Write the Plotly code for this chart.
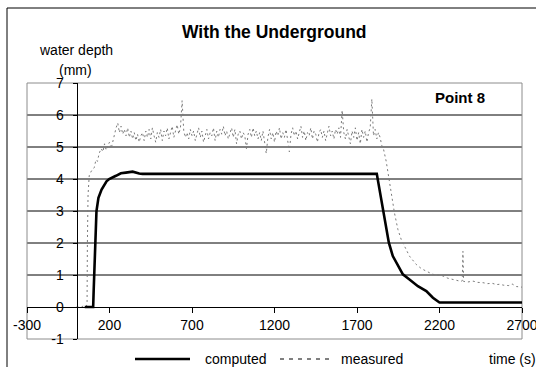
import plotly.graph_objects as go

# ---------------- data ----------------
computed_time = [50, 101, 104, 107, 111, 116, 121, 133, 152, 182, 198, 239, 269, 299, 340, 380, 400,
                 1000, 1820, 1826, 1847, 1857, 1873, 1893, 1917, 1948, 1978, 2018, 2069, 2120,
                 2140, 2160, 2200, 2700]
computed_depth = [0.0, 0.0, 0.5, 0.97, 2.0, 2.5, 3.0, 3.41, 3.67, 3.93, 4.0, 4.1, 4.18, 4.2, 4.23, 4.17, 4.16,
                  4.16, 4.16, 3.98, 3.36, 3.01, 2.63, 2.01, 1.59, 1.28, 1.02, 0.86, 0.65, 0.50,
                  0.40, 0.29, 0.14, 0.14]

measured_time = [
    0, 10, 20, 30, 40, 50, 60, 64, 66, 70, 77, 90, 107, 118, 127, 137, 150, 160, 170, 180,
    190, 200, 210, 220, 230, 240,
    250, 260, 270, 280, 290, 300, 310, 320, 330, 340, 350, 360, 370, 380, 390, 400,
    410, 420, 430, 440, 450, 460, 470, 480, 490, 500, 510, 520, 530, 540, 550, 560,
    570, 580, 590, 600, 610, 620, 630, 640, 650, 660, 670, 680, 690, 700, 710, 720,
    730, 740, 750, 760, 770, 780, 790, 800, 810, 820, 830, 840, 850, 860, 870, 880,
    890, 900, 910, 920, 930, 940, 950, 960, 970, 980, 990, 1000, 1010, 1020, 1030, 1040,
    1050, 1060, 1070, 1080, 1090, 1100, 1110, 1120, 1130, 1140, 1150, 1160, 1170, 1180,
    1190, 1200, 1210, 1220, 1230, 1240, 1250, 1260, 1270, 1280, 1290, 1300, 1310, 1320,
    1330, 1340, 1350, 1360, 1370, 1380, 1390, 1400, 1410, 1420, 1430, 1440, 1450, 1460,
    1470, 1480, 1490, 1500, 1510, 1520, 1530, 1540, 1550, 1560, 1570, 1580, 1590, 1600,
    1610, 1620, 1630, 1640, 1650, 1660, 1670, 1680, 1690, 1700, 1710, 1720, 1730, 1740,
    1750, 1760, 1770, 1780, 1790, 1800, 1810, 1820, 1830, 1840, 1850, 1860, 1877, 1891,
    1905, 1927, 1948, 1968, 1988, 2018, 2059, 2090, 2120, 2160, 2190, 2221, 2250, 2282,
    2310, 2330, 2338, 2342, 2346, 2370, 2403, 2430, 2464, 2490, 2520, 2545, 2564, 2590,
    2620, 2640, 2666, 2690, 2700]
measured_depth = [
    0.0, 0.0, 0.02, 0.0, 0.03, 0.0, 0.02, 0.1, 2.0, 3.5, 4.1, 4.25, 4.35, 4.6, 4.55, 4.8, 4.95, 4.85, 5.1, 4.9,
    5.05, 5.15, 4.95, 5.2, 5.45, 5.6,
    5.75, 5.45, 5.65, 5.40, 5.55, 5.35, 5.60, 5.30, 5.50, 5.25, 5.45, 5.20, 5.40, 5.15, 5.35, 5.45,
    5.20, 5.50, 5.30, 5.55, 5.25, 5.60, 5.35, 5.15, 5.45, 5.30, 5.55, 5.20, 5.50, 5.35, 5.60, 5.25,
    5.45, 5.65, 5.30, 5.50, 5.70, 5.40, 5.60, 6.45, 5.50, 5.30, 5.45, 5.25, 5.55, 5.35, 5.50, 5.20,
    5.45, 5.60, 5.30, 5.50, 5.15, 5.40, 5.55, 5.25, 5.45, 5.35, 5.60, 5.20, 5.50, 5.30, 5.55, 5.40,
    5.65, 5.35, 5.50, 5.25, 5.45, 5.60, 5.30, 5.55, 5.10, 5.40, 5.50, 5.25, 5.45, 5.35, 4.95, 5.40,
    5.55, 5.30, 5.60, 5.35, 5.50, 5.25, 5.45, 5.20, 5.50, 5.05, 4.80, 5.30, 5.55, 5.25,
    5.45, 5.15, 5.50, 5.35, 5.60, 5.25, 5.45, 5.30, 5.55, 5.20, 4.85, 5.40, 5.60, 5.35,
    5.50, 5.25, 5.45, 5.65, 5.30, 5.50, 5.20, 5.45, 5.35, 5.60, 5.25, 5.50, 5.40, 5.15,
    5.45, 5.55, 5.30, 5.50, 5.20, 5.45, 5.65, 5.35, 5.50, 5.25, 5.55, 5.40, 5.60, 5.30,
    6.15, 5.45, 5.25, 5.55, 5.35, 5.10, 5.50, 5.30, 5.60, 5.20, 5.45, 5.10, 5.55, 5.30,
    5.50, 5.15, 5.45, 5.60, 6.50, 5.35, 5.55, 5.25, 5.45, 5.30, 5.05, 4.95, 4.55, 4.08,
    3.70, 2.94, 2.42, 2.11, 1.90, 1.59, 1.33, 1.20, 1.12, 1.02, 1.00, 0.97, 0.90, 0.86,
    0.83, 0.80, 0.82, 1.74, 0.80, 0.78, 0.81, 0.77, 0.76, 0.73, 0.74, 0.70, 0.71, 0.68,
    0.67, 0.72, 0.64, 0.63, 0.62]

x_ticks = [-300, 200, 700, 1200, 1700, 2200, 2700]
y_ticks = [-1, 0, 1, 2, 3, 4, 5, 6, 7]
grid_levels = [1, 2, 3, 4, 5, 6]

FONT = "Liberation Sans"
W, H = 536, 367
ML, MR, MT, MB = 27, 14, 83, 28
PW, PH = W - ML - MR, H - MT - MB


def px(xp):
    return (xp - ML) / PW


def py(yp):
    return (H - MB - yp) / PH


fig = go.Figure()
fig.add_trace(go.Scatter(x=measured_time, y=measured_depth, mode="lines",
                         line=dict(color="#7a7a7a", width=1, dash="2px,3px"),
                         name="measured", showlegend=False))
fig.add_trace(go.Scatter(x=computed_time, y=computed_depth, mode="lines",
                         line=dict(color="black", width=2.6),
                         name="computed", showlegend=False))

shapes = []
for g in grid_levels:
    shapes.append(dict(type="line", xref="paper", yref="y", x0=0, x1=1, y0=g, y1=g,
                       line=dict(color="black", width=1), layer="below"))
# plot area border
shapes.append(dict(type="rect", xref="paper", yref="paper", x0=0, x1=1, y0=0, y1=1,
                   line=dict(color="#8c8c8c", width=1), layer="below"))
# outer chart frame (left and top edges)
shapes.append(dict(type="line", xref="paper", yref="paper", x0=px(7), x1=px(7), y0=py(8), y1=py(372),
                   line=dict(color="black", width=1)))
shapes.append(dict(type="line", xref="paper", yref="paper", x0=px(7), x1=px(540), y0=py(8), y1=py(8),
                   line=dict(color="black", width=1)))
# legend samples
shapes.append(dict(type="line", xref="paper", yref="paper", x0=px(135), x1=px(190), y0=py(359), y1=py(359),
                   line=dict(color="black", width=2.6)))
shapes.append(dict(type="line", xref="paper", yref="paper", x0=px(280), x1=px(334), y0=py(359), y1=py(359),
                   line=dict(color="black", width=1, dash="4px,5px")))

annotations = [
    dict(text="<b>With the Underground</b>", x=px(274), y=py(32), xref="paper", yref="paper",
         showarrow=False, font=dict(family=FONT, size=17.5, color="black"), xanchor="center", yanchor="middle"),
    dict(text="water depth", x=px(75.5), y=py(50), xref="paper", yref="paper",
         showarrow=False, font=dict(family=FONT, size=14, color="black"), xanchor="center", yanchor="middle"),
    dict(text="(mm)", x=px(75.5), y=py(70), xref="paper", yref="paper",
         showarrow=False, font=dict(family=FONT, size=14, color="black"), xanchor="center", yanchor="middle"),
    dict(text="<b>Point 8</b>", x=px(459.5), y=py(97), xref="paper", yref="paper",
         showarrow=False, font=dict(family=FONT, size=15, color="black"), xanchor="center", yanchor="middle"),
    dict(text="computed", x=px(203), y=py(359), xref="paper", yref="paper",
         showarrow=False, font=dict(family=FONT, size=14, color="black"), xanchor="left", yanchor="middle"),
    dict(text="measured", x=px(339), y=py(359), xref="paper", yref="paper",
         showarrow=False, font=dict(family=FONT, size=14, color="black"), xanchor="left", yanchor="middle"),
    dict(text="time (s)", x=px(487), y=py(359), xref="paper", yref="paper",
         showarrow=False, font=dict(family=FONT, size=14, color="black"), xanchor="left", yanchor="middle"),
]

fig.update_layout(
    width=W, height=H,
    margin=dict(l=ML, r=MR, t=MT, b=MB, pad=0),
    paper_bgcolor="white", plot_bgcolor="white",
    showlegend=False,
    shapes=shapes, annotations=annotations,
    font=dict(family=FONT, size=14, color="black"),
    xaxis=dict(range=[-300, 2700], tickvals=x_ticks, ticktext=[str(v) for v in x_ticks],
               showgrid=False, zeroline=False, showline=True, linecolor="black", linewidth=1,
               ticks="outside", ticklen=5, tickcolor="black", tickwidth=1,
               anchor="free", position=1 / 8, ticklabeloverflow="allow",
               tickfont=dict(family=FONT, size=14, color="black"), automargin=False),
    yaxis=dict(range=[-1, 7], tickvals=y_ticks, ticktext=[str(v) for v in y_ticks],
               showgrid=False, zeroline=False, showline=True, linecolor="black", linewidth=1,
               ticks="outside", ticklen=4, tickcolor="black", tickwidth=1,
               anchor="free", position=0.1, ticklabelstandoff=6, ticklabeloverflow="allow",
               tickfont=dict(family=FONT, size=14, color="black"), automargin=False),
)

fig.write_html("out.html", config={"displayModeBar": False},
               post_script="document.body.style.margin='0px';document.body.style.overflow='hidden';")
